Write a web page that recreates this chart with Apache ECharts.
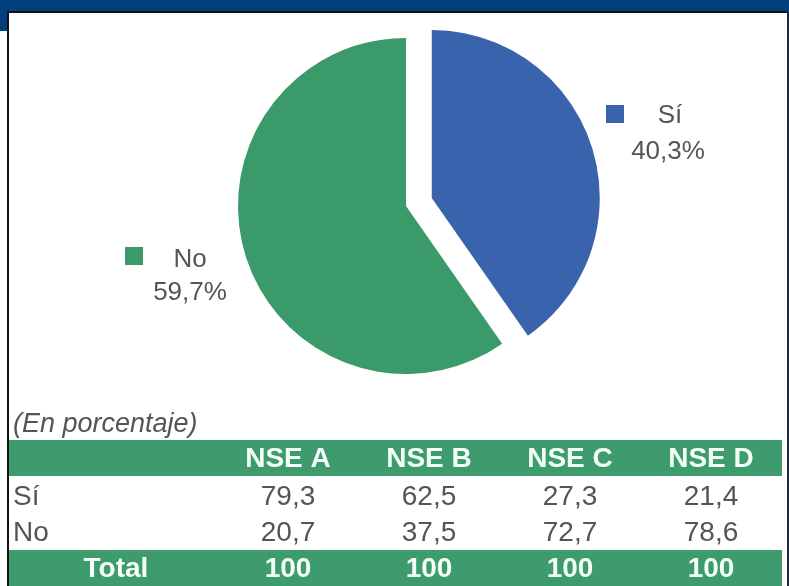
<!DOCTYPE html>
<html>
<head>
<meta charset="utf-8">
<script src="https://cdn.jsdelivr.net/npm/echarts@6/dist/echarts.min.js"></script>
<style>
  html, body { margin: 0; padding: 0; background: #fff; }
  #chart { width: 789px; height: 586px; }
</style>
</head>
<body>
<div id="chart"></div>
<script>
// pie data
const sliceNames = ['Sí', 'No']
const sliceValues = [40.3, 59.7]
const sliceColors = ['#3a63ad', '#3a9a6a']

// table data
const tableNote = '(En porcentaje)'
const tableColumns = ['NSE A', 'NSE B', 'NSE C', 'NSE D']
const rowNames = ['Sí', 'No']
const rowSi = [79.3, 62.5, 27.3, 21.4]
const rowNo = [20.7, 37.5, 72.7, 78.6]
const totalName = 'Total'
const rowTotal = [100, 100, 100, 100]

const FONT = '"Liberation Sans", Arial, sans-serif'
const GRAY = '#555'
const GREEN = '#3d9b6d'
const fmt = v => (Number.isInteger(v) ? String(v) : v.toFixed(1).replace('.', ','))

const colX = [288, 429, 570, 711]

function text(x, y, str, opt) {
  return {
    type: 'text', x: x, y: y, z: 10,
    style: Object.assign({
      text: str, font: '28px ' + FONT, fill: GRAY,
      align: 'center', verticalAlign: 'middle'
    }, opt || {})
  }
}

function buildGraphic() {
  const g = []
  // frame
  g.push({ type: 'rect', shape: { x: 0, y: 0, width: 789, height: 11 }, style: { fill: '#023f7c' } })
  g.push({ type: 'rect', shape: { x: 0, y: 0, width: 7, height: 31 }, style: { fill: '#023f7c' } })
  g.push({ type: 'rect', shape: { x: 7, y: 11, width: 782, height: 2 }, style: { fill: '#111' } })
  g.push({ type: 'rect', shape: { x: 7, y: 11, width: 2, height: 575 }, style: { fill: '#111' } })
  g.push({ type: 'rect', shape: { x: 787, y: 11, width: 2, height: 575 }, style: { fill: '#1a2a44' } })

  // pie labels
  const labelPos = [
    { sq: [606, 105], name: [670, 116], pct: [668, 152] },
    { sq: [125, 247], name: [190, 260], pct: [190, 293] }
  ]
  sliceNames.forEach((n, i) => {
    const p = labelPos[i]
    g.push({ type: 'rect', shape: { x: p.sq[0], y: p.sq[1], width: 18, height: 18 }, style: { fill: sliceColors[i] } })
    g.push(text(p.name[0], p.name[1], n, { font: '26px ' + FONT }))
    g.push(text(p.pct[0], p.pct[1], fmt(sliceValues[i]) + '%', { font: '26px ' + FONT }))
  })

  // table
  g.push(text(13, 424, tableNote, { align: 'left', font: 'italic 27px ' + FONT }))
  g.push({ type: 'rect', shape: { x: 9, y: 440, width: 773, height: 36 }, style: { fill: GREEN } })
  g.push({ type: 'rect', shape: { x: 9, y: 550, width: 773, height: 36 }, style: { fill: GREEN } })
  tableColumns.forEach((c, i) => {
    g.push(text(colX[i], 459, c, { font: 'bold 28px ' + FONT, fill: '#f4fff8' }))
  })
  const rows = [rowSi, rowNo]
  const rowY = [497, 533]
  rows.forEach((row, r) => {
    g.push(text(13, rowY[r], rowNames[r], { align: 'left' }))
    row.forEach((v, i) => g.push(text(colX[i], rowY[r], fmt(v))))
  })
  g.push(text(116, 569, totalName, { font: 'bold 28px ' + FONT, fill: '#f4fff8' }))
  rowTotal.forEach((v, i) => {
    g.push(text(colX[i], 569, fmt(v), { font: 'bold 28px ' + FONT, fill: '#f4fff8' }))
  })
  return g
}

const myChart = echarts.init(document.getElementById('chart'))
myChart.setOption({
  backgroundColor: '#fff',
  animation: false,
  graphic: buildGraphic(),
  series: [{
    type: 'pie',
    center: [406, 206],
    radius: 168,
    startAngle: 90,
    clockwise: true,
    selectedMode: 'single',
    selectedOffset: 27,
    silent: true,
    label: { show: false },
    labelLine: { show: false },
    emphasis: { disabled: true },
    data: sliceNames.map((n, i) => ({
      name: n,
      value: sliceValues[i],
      selected: i === 0,
      itemStyle: { color: sliceColors[i] }
    }))
  }]
})
</script>
</body>
</html>
